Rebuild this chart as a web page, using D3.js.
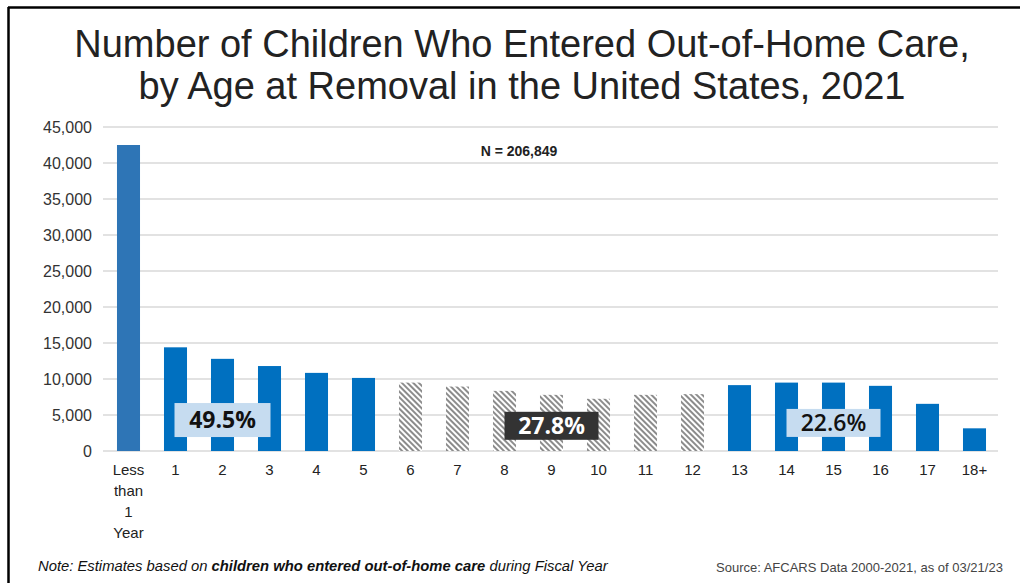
<!DOCTYPE html>
<html>
<head>
<meta charset="utf-8">
<script src="https://cdn.jsdelivr.net/npm/d3@7"></script>
<style>
  body { margin: 0; background: #fff; }
  svg { display: block; font-family: "Liberation Sans", Arial, sans-serif; }
</style>
</head>
<body>
<div id="chart"></div>
<script>
// Data
var ages = ["Less than 1 Year", "1", "2", "3", "4", "5", "6", "7", "8", "9", "10", "11", "12", "13", "14", "15", "16", "17", "18+"];
var children = [42500, 14400, 12800, 11800, 10850, 10150, 9500, 8950, 8350, 7800, 7250, 7800, 7900, 9150, 9500, 9500, 9050, 6550, 3150];
var groups = ["infant", "young", "young", "young", "young", "young", "mid", "mid", "mid", "mid", "mid", "mid", "mid", "teen", "teen", "teen", "teen", "teen", "teen"];
var yTicks = [0, 5000, 10000, 15000, 20000, 25000, 30000, 35000, 40000, 45000];
var groupPct = [
  { label: "49.5%", at: "2", level: 4300, style: "light" },
  { label: "27.8%", at: "9", level: 3500, style: "dark" },
  { label: "22.6%", at: "15", level: 3900, style: "light2" }
];

var W = 1020, H = 583;
var margin = { top: 127, right: 22, bottom: 132, left: 105 },
    width = W - margin.left - margin.right,
    height = H - margin.top - margin.bottom;

var svg = d3.select("#chart")
    .append("svg")
    .attr("width", W)
    .attr("height", H);

// pattern for hatched bars
var defs = svg.append("defs");
var pat = defs.append("pattern")
    .attr("id", "hatch")
    .attr("patternUnits", "userSpaceOnUse")
    .attr("width", 4)
    .attr("height", 4)
    .attr("patternTransform", "rotate(-45)");
pat.append("rect").attr("width", 4).attr("height", 4).attr("fill", "#fff");
pat.append("rect").attr("width", 2).attr("height", 4).attr("fill", "#8c8c8c");

// frame lines
svg.append("line").attr("x1", 8).attr("x2", W).attr("y1", 7.5).attr("y2", 7.5)
    .attr("stroke", "#000").attr("stroke-width", 2.5);
svg.append("line").attr("x1", 8.5).attr("x2", 8.5).attr("y1", 7).attr("y2", H)
    .attr("stroke", "#000").attr("stroke-width", 2.5);

// Title
var title = svg.append("text")
    .attr("text-anchor", "middle")
    .style("font-size", "38px")
    .attr("fill", "#222");
title.append("tspan").attr("x", 522).attr("y", 57).text("Number of Children Who Entered Out-of-Home Care,");
title.append("tspan").attr("x", 522).attr("y", 99).text("by Age at Removal in the United States, 2021");

var g = svg.append("g")
    .attr("transform", "translate(" + margin.left + "," + margin.top + ")");

var x = d3.scaleBand()
    .domain(ages)
    .range([0, width])
    .paddingInner(0.51)
    .paddingOuter(0.255);

var y = d3.scaleLinear()
    .domain([0, 45000])
    .range([height, 0]);

// gridlines
g.append("g")
    .selectAll("line")
    .data(yTicks)
    .enter()
    .append("line")
    .attr("x1", -2)
    .attr("x2", width)
    .attr("y1", function (d) { return y(d); })
    .attr("y2", function (d) { return y(d); })
    .attr("stroke", "#d9d9d9")
    .attr("stroke-width", 1.5);

// Y axis
var yAxis = g.append("g")
    .call(d3.axisLeft(y).tickValues(yTicks).tickSize(0).tickPadding(13).tickFormat(d3.format(",")));
yAxis.select(".domain").remove();
yAxis.selectAll("text")
    .style("font-size", "16px")
    .attr("fill", "#333");

// Bars
g.selectAll(".bar")
    .data(ages)
    .enter()
    .append("rect")
    .attr("class", "bar")
    .attr("x", function (d) { return x(d); })
    .attr("y", function (d, i) { return y(children[i]); })
    .attr("width", x.bandwidth())
    .attr("height", function (d, i) { return height - y(children[i]); })
    .attr("fill", function (d, i) {
        if (groups[i] == "infant") return "#2e75b6";
        if (groups[i] == "mid") return "url(#hatch)";
        return "#0070c0";
    });

// X axis labels
var xLab = g.append("g")
    .selectAll("text")
    .data(ages)
    .enter()
    .append("text")
    .attr("text-anchor", "middle")
    .style("font-size", "15px")
    .attr("fill", "#222");
xLab.each(function (d) {
    var t = d3.select(this);
    var cx = x(d) + x.bandwidth() / 2;
    var lines = d == "Less than 1 Year" ? ["Less", "than", "1", "Year"] : [d];
    lines.forEach(function (l, k) {
        t.append("tspan").attr("x", cx).attr("y", height + 24 + k * 21).text(l);
    });
});

// N label
g.append("text")
    .attr("x", 519 - margin.left)
    .attr("y", y(41000))
    .attr("text-anchor", "middle")
    .style("font-size", "14px")
    .style("font-weight", "bold")
    .attr("fill", "#222")
    .text("N = 206,849");

// group percent boxes
groupPct.forEach(function (p) {
    var cx = x(p.at) + x.bandwidth() / 2;
    var bw = p.style == "light" ? 96 : 94;
    var bh = p.style == "light" ? 34 : 28;
    var cy = y(p.level);
    var fillBox = p.style == "dark" ? "#333333" : "#c6dcf0";
    var fillTxt = p.style == "dark" ? "#fff" : "#111";
    g.append("rect")
        .attr("x", cx - bw / 2)
        .attr("y", cy - bh / 2)
        .attr("width", bw)
        .attr("height", bh)
        .attr("fill", fillBox);
    g.append("text")
        .attr("x", cx)
        .attr("y", cy)
        .attr("dy", "0.36em")
        .attr("text-anchor", "middle")
        .style("font-family", "'Open Sans', sans-serif")
        .style("font-size", "23px")
        .style("font-weight", p.style == "light2" ? "600" : "bold")
        .attr("fill", fillTxt)
        .text(p.label);
});

// Footer
var note = svg.append("text")
    .attr("x", 38)
    .attr("y", 571)
    .style("font-size", "14.8px")
    .style("font-style", "italic")
    .attr("fill", "#111");
note.append("tspan").text("Note: Estimates based on ");
note.append("tspan").style("font-weight", "bold").text("children who entered out-of-home care");
note.append("tspan").text(" during Fiscal Year");

svg.append("text")
    .attr("x", 716)
    .attr("y", 572)
    .style("font-size", "13px")
    .attr("fill", "#444")
    .text("Source: AFCARS Data 2000-2021, as of 03/21/23");
</script>
</body>
</html>
